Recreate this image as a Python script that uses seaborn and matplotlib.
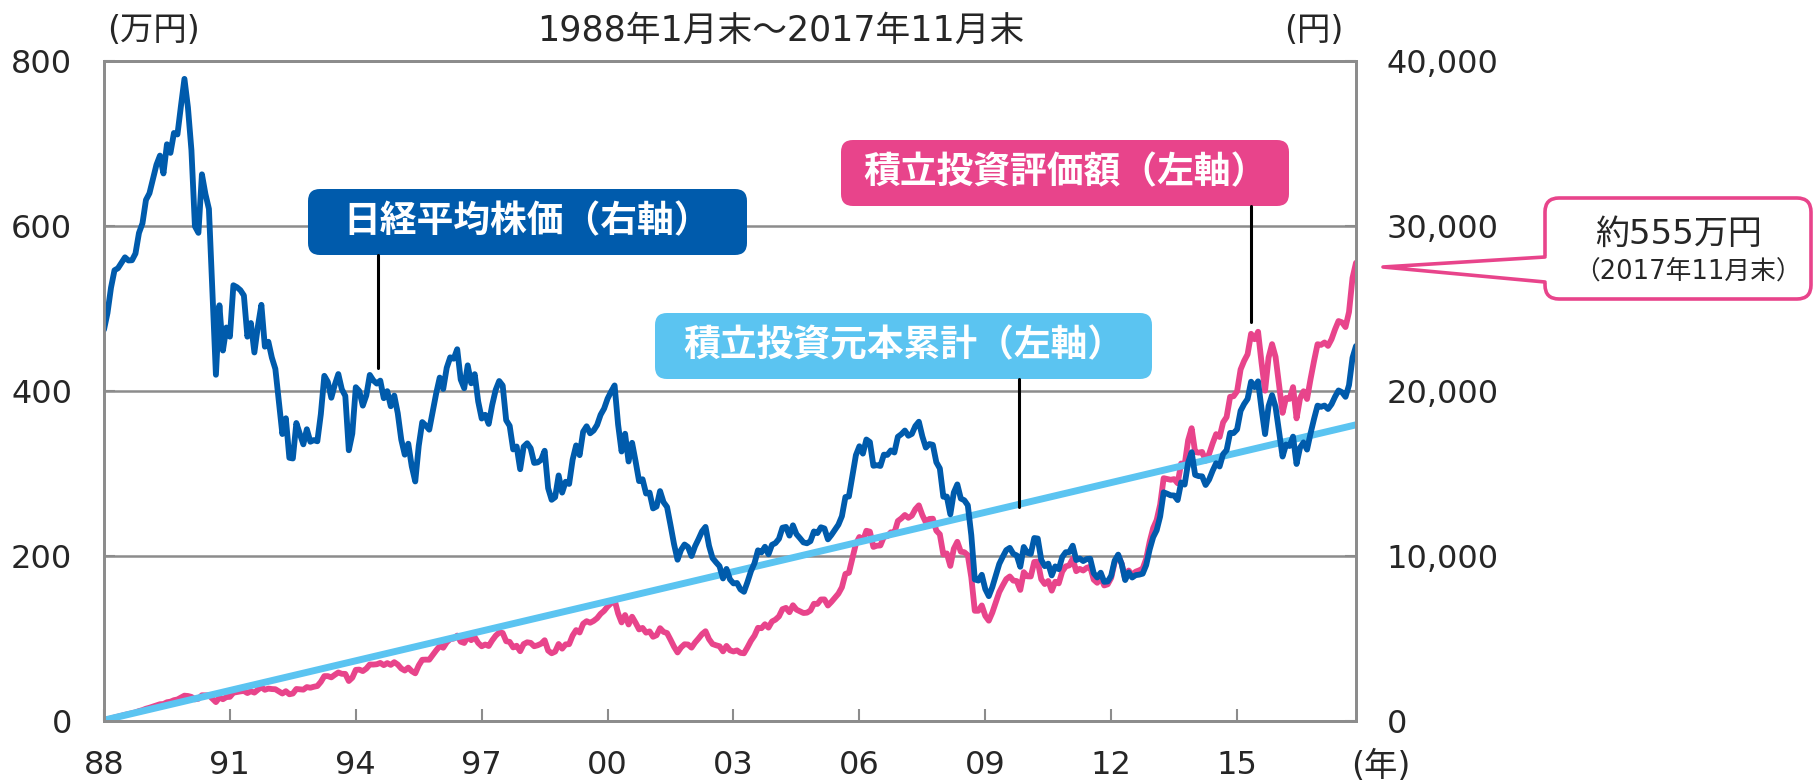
import numpy as np
import pandas as pd
import matplotlib
matplotlib.use("Agg")
import matplotlib.pyplot as plt
import seaborn as sns
from matplotlib.patches import FancyBboxPatch, Polygon
from matplotlib.lines import Line2D

# 日経平均株価 月末値 1988年1月〜2017年11月 (円)
nikkei = [
    23719, 24729, 26260, 27316, 27441, 27769, 28101, 27911, 27924, 28330, 29579, 30159,
    31581, 31985, 32839, 33713, 34267, 33183, 34954, 34431, 35637, 35549, 37269, 38916,
    37189, 34592, 29980, 29585, 33131, 31940, 31036, 25978, 20984, 25194, 22454, 23849,
    23293, 26409, 26292, 26111, 25790, 23291, 24121, 22336, 23916, 25222, 22687, 22984,
    22023, 21339, 19346, 17391, 18348, 15952, 15910, 18061, 17399, 16767, 17683, 16925,
    17023, 16953, 18591, 20919, 20552, 19590, 20380, 21027, 20106, 19703, 16408, 17417,
    20229, 19997, 19112, 19725, 20974, 20644, 20449, 20629, 19564, 19990, 19076, 19723,
    18650, 17053, 16140, 16807, 15437, 14517, 16678, 18117, 17913, 17655, 18744, 19868,
    20813, 20125, 21407, 22041, 21956, 22531, 20693, 20167, 21556, 20467, 21020, 19361,
    18330, 18557, 18003, 19151, 20069, 20605, 20331, 18229, 17888, 16459, 16636, 15259,
    16628, 16832, 16527, 15641, 15671, 15830, 16379, 14108, 13406, 13565, 14884, 13842,
    14499, 14368, 15837, 16702, 16112, 17530, 17862, 17437, 17606, 17943, 18558, 18934,
    19540, 19960, 20337, 17974, 16332, 17411, 15727, 16861, 15747, 14539, 14649, 13786,
    13843, 12884, 12999, 13934, 13262, 12969, 11861, 10714, 9775, 10367, 10697, 10543,
    9998, 10588, 11025, 11493, 11764, 10622, 9878, 9620, 9383, 8640, 9216, 8579,
    8340, 8363, 7973, 7831, 8425, 9083, 9563, 10344, 10219, 10560, 10101, 10677,
    10784, 11042, 11715, 11762, 11236, 11859, 11326, 11082, 10824, 10771, 10899, 11489,
    11388, 11741, 11669, 11009, 11277, 11584, 11900, 12414, 13574, 13607, 14872, 16111,
    16650, 16205, 17060, 16906, 15467, 15505, 15457, 16141, 16128, 16399, 16274, 17226,
    17383, 17604, 17288, 17400, 17876, 18138, 17249, 16569, 16786, 16737, 15681, 15308,
    13592, 13603, 12526, 13850, 14339, 13481, 13377, 13073, 11260, 8577, 8512, 8860,
    7994, 7568, 8110, 8828, 9523, 9958, 10357, 10493, 10133, 10035, 9346, 10546,
    10198, 10126, 11090, 11057, 9769, 9383, 9537, 8824, 9369, 9202, 9937, 10229,
    10238, 10624, 9755, 9850, 9694, 9816, 9833, 8955, 8700, 8988, 8435, 8455,
    8803, 9723, 10084, 9521, 8543, 9007, 8695, 8840, 8870, 8928, 9446, 10395,
    11139, 11559, 12398, 13861, 13775, 13677, 13668, 13389, 14456, 14328, 15662, 16291,
    14915, 14841, 14828, 14304, 14632, 15162, 15621, 15425, 16174, 16414, 17460, 17451,
    17674, 18798, 19207, 19520, 20563, 20236, 20585, 18890, 17388, 19083, 19747, 19034,
    17518, 16027, 16759, 16666, 17235, 15576, 16569, 16887, 16450, 17425, 18308, 19114,
    19041, 19119, 18909, 19197, 19651, 20033, 19925, 19646, 20356, 22012, 22725,
]

# 積立投資評価額 (万円)
valuation = [
    1.0, 2.0, 3.2, 4.3, 5.3, 6.4, 7.5, 8.4, 9.4, 10.5, 12.0, 13.2,
    14.9, 16.1, 17.5, 19.0, 20.3, 20.6, 22.7, 23.4, 25.2, 26.1, 28.4, 30.7,
    30.3, 29.2, 26.3, 27.0, 31.2, 31.1, 31.2, 27.1, 22.9, 28.5, 26.4, 29.0,
    29.3, 34.3, 35.1, 35.9, 36.4, 33.9, 36.1, 34.4, 37.9, 41.0, 37.8, 39.3,
    38.7, 38.5, 35.9, 33.3, 36.1, 32.4, 33.3, 38.8, 38.4, 38.0, 41.1, 40.3,
    41.5, 42.4, 47.4, 54.4, 54.4, 52.9, 56.0, 58.8, 57.2, 57.1, 48.5, 52.5,
    62.0, 62.3, 60.5, 63.5, 68.5, 68.4, 68.8, 70.4, 67.7, 70.2, 68.0, 71.3,
    68.4, 63.6, 61.2, 64.7, 60.4, 57.8, 67.4, 74.2, 74.4, 74.3, 79.9, 85.7,
    90.8, 88.8, 95.4, 99.3, 99.9, 103.5, 96.1, 94.6, 102.1, 98.0, 101.6, 94.6,
    90.6, 92.7, 90.9, 97.7, 103.4, 107.2, 106.7, 96.7, 95.9, 89.2, 91.2, 84.6,
    93.2, 95.4, 94.7, 90.6, 91.8, 93.7, 97.9, 85.4, 82.1, 84.1, 93.3, 87.7,
    92.9, 93.1, 103.6, 110.2, 107.3, 117.8, 121.0, 119.1, 121.3, 124.6, 129.9, 133.5,
    138.8, 142.8, 146.5, 130.4, 119.5, 128.4, 117.0, 126.4, 119.1, 111.0, 112.8, 107.1,
    108.6, 102.1, 104.0, 112.5, 108.0, 106.6, 98.5, 90.0, 83.1, 89.2, 93.0, 92.7,
    88.9, 95.1, 100.0, 105.3, 108.8, 99.2, 93.3, 91.8, 90.6, 84.4, 91.0, 85.7,
    84.3, 85.6, 82.6, 82.1, 89.3, 97.3, 103.5, 112.9, 112.5, 117.3, 113.2, 120.6,
    122.9, 126.8, 135.5, 137.1, 131.9, 140.3, 135.0, 133.0, 130.9, 131.3, 133.9, 142.1,
    141.9, 147.3, 147.4, 140.0, 144.4, 149.4, 154.4, 162.1, 178.3, 179.7, 197.4, 214.8,
    223.0, 218.1, 230.6, 229.5, 211.0, 212.5, 212.8, 223.2, 224.1, 228.8, 228.1, 242.4,
    245.6, 249.7, 246.3, 248.9, 256.7, 261.4, 249.6, 240.8, 244.9, 245.2, 230.7, 226.3,
    201.9, 203.1, 188.0, 208.8, 217.2, 205.2, 204.6, 201.0, 174.1, 133.6, 133.6, 140.1,
    127.4, 121.6, 131.3, 143.9, 156.3, 164.4, 172.0, 175.2, 170.2, 169.6, 158.9, 180.4,
    175.4, 175.2, 192.8, 193.3, 171.8, 166.0, 169.7, 158.0, 168.8, 166.8, 181.1, 187.4,
    188.6, 196.7, 181.6, 184.4, 182.4, 185.7, 187.0, 171.3, 167.5, 174.0, 164.3, 165.7,
    173.5, 192.6, 200.8, 190.6, 172.0, 182.4, 177.0, 181.0, 182.6, 184.8, 196.5, 217.3,
    233.8, 243.6, 262.3, 294.3, 293.4, 292.4, 293.2, 288.2, 312.1, 310.4, 340.3, 354.9,
    326.0, 325.3, 326.1, 315.5, 323.8, 336.5, 347.7, 344.3, 362.0, 368.4, 392.9, 393.7,
    399.7, 426.1, 436.4, 444.5, 469.3, 462.8, 471.8, 433.9, 400.4, 440.5, 456.8, 441.3,
    407.2, 373.5, 391.6, 390.4, 404.7, 366.8, 391.1, 399.7, 390.3, 414.4, 436.4, 456.7,
    455.9, 458.8, 454.7, 462.7, 474.6, 484.8, 483.2, 477.5, 495.7, 537.0, 555.4,
]

# 積立投資元本累計 (万円): 毎月1万円, 始点と終点
principal = [1, 359]

year_labels = ["88", "91", "94", "97", "00", "03", "06", "09", "12", "15"]
left_ticks = [0, 200, 400, 600, 800]
right_ticks = [0, 10000, 20000, 30000, 40000]

BLUE = "#005BAC"
PINK = "#E8448B"
SKY = "#5BC4F1"
GRID = "#8C8C8C"

sns.set_theme(style="white")
plt.rcParams["font.family"] = ["DejaVu Sans", "Noto Sans CJK JP"]

W, H = 1815, 783
fig = plt.figure(figsize=(W / 100, H / 100), dpi=100)
ax = fig.add_axes([104 / W, 1 - 721 / H, (1356 - 104) / W, (721 - 61) / H])

df = pd.DataFrame({"month": np.arange(len(nikkei)), "nikkei": nikkei, "valuation": valuation})
last = len(nikkei) - 1

sns.lineplot(data=df, x="month", y="valuation", ax=ax, color=PINK, linewidth=4.2)
sns.lineplot(x=[0, last], y=principal, ax=ax, color=SKY, linewidth=5.0)
ax2 = ax.twinx()
sns.lineplot(data=df, x="month", y="nikkei", ax=ax2, color=BLUE, linewidth=4.2)

ax.set_xlim(0, last)
ax.set_ylim(0, 800)
ax2.set_ylim(0, 40000)
ax.set_xticks(np.arange(len(year_labels)) * 36)
ax.set_xticklabels(year_labels)
ax.set_yticks(left_ticks)
ax.set_yticklabels([str(v) for v in left_ticks])
ax2.set_yticks(right_ticks)
ax2.set_yticklabels([f"{v:,}" for v in right_ticks])
for a in (ax, ax2):
    a.set_xlabel("")
    a.set_ylabel("")
    for s in a.spines.values():
        s.set_color(GRID)
        s.set_linewidth(2.0)

ax.yaxis.grid(True, color=GRID, linewidth=1.8)
ax.xaxis.grid(False)
ax.set_axisbelow(True)
ax.tick_params(axis="x", direction="in", length=9, width=1.5, color=GRID, pad=21, labelsize=23, bottom=True)
ax.tick_params(axis="y", direction="in", length=8, width=1.5, color=GRID, pad=23, labelsize=23, left=True)
ax2.tick_params(axis="y", direction="in", length=8, width=1.5, color=GRID, pad=22, labelsize=23, right=True)

# text placed in figure pixels
def fx(x):
    return x / W

def fy(y):
    return 1 - y / H

fig.text(fx(781), fy(31), "1988年1月末～2017年11月末", ha="center", va="center", fontsize=25)
fig.text(fx(154), fy(31), "(万円)", ha="center", va="center", fontsize=24)
fig.text(fx(1314), fy(31), "(円)", ha="center", va="center", fontsize=24)
fig.text(fx(1381), fy(766), "(年)", ha="center", va="center", fontsize=24)

inch = fig.dpi_scale_trans

def label_box(x0, y0, x1, y1, color, text, lx, ly0, ly1):
    box = FancyBboxPatch((x0 / 100, (H - y1) / 100), (x1 - x0) / 100, (y1 - y0) / 100,
                         boxstyle="round,pad=0,rounding_size=0.12", transform=inch,
                         fc=color, ec="none", zorder=5)
    fig.add_artist(box)
    fig.add_artist(Line2D([lx / 100, lx / 100], [(H - ly0) / 100, (H - ly1) / 100],
                          transform=inch, color="black", linewidth=2.2, zorder=5))
    fig.text(fx((x0 + x1) / 2), fy((y0 + y1) / 2), text, ha="center", va="center",
             fontsize=26.5, fontweight="bold", color="white",
             family=["Noto Sans CJK JP", "DejaVu Sans"], zorder=6)

label_box(308, 189, 747, 255, BLUE, "日経平均株価（右軸）", 378, 255, 368)
label_box(841, 140, 1289, 206, PINK, "積立投資評価額（左軸）", 1251, 206, 322)
label_box(655, 313, 1152, 379, SKY, "積立投資元本累計（左軸）", 1019, 379, 507)

# callout for the final value
cx0, cy0, cx1, cy1 = 1545, 198, 1811, 299
tip = (1383, 267)
fig.add_artist(FancyBboxPatch((cx0 / 100, (H - cy1) / 100), (cx1 - cx0) / 100, (cy1 - cy0) / 100,
                              boxstyle="round,pad=0,rounding_size=0.14", transform=inch,
                              fc="white", ec=PINK, linewidth=2.6, zorder=5))
fig.add_artist(Polygon([(tip[0] / 100, (H - tip[1]) / 100), ((cx0 + 4) / 100, (H - 256) / 100),
                        ((cx0 + 4) / 100, (H - 283) / 100)], closed=True, transform=inch,
                       fc="white", ec="none", zorder=6))
fig.add_artist(Line2D([cx0 / 100, tip[0] / 100, cx0 / 100],
                      [(H - 257) / 100, (H - tip[1]) / 100, (H - 282) / 100],
                      transform=inch, color=PINK, linewidth=2.6, zorder=7))
fig.text(fx(1679), fy(234), "約555万円", ha="center", va="center", fontsize=24.5, zorder=8)
fig.text(fx(1688), fy(272), "（2017年11月末）", ha="center", va="center", fontsize=18.5, zorder=8)

fig.savefig("out.png", dpi=100)
